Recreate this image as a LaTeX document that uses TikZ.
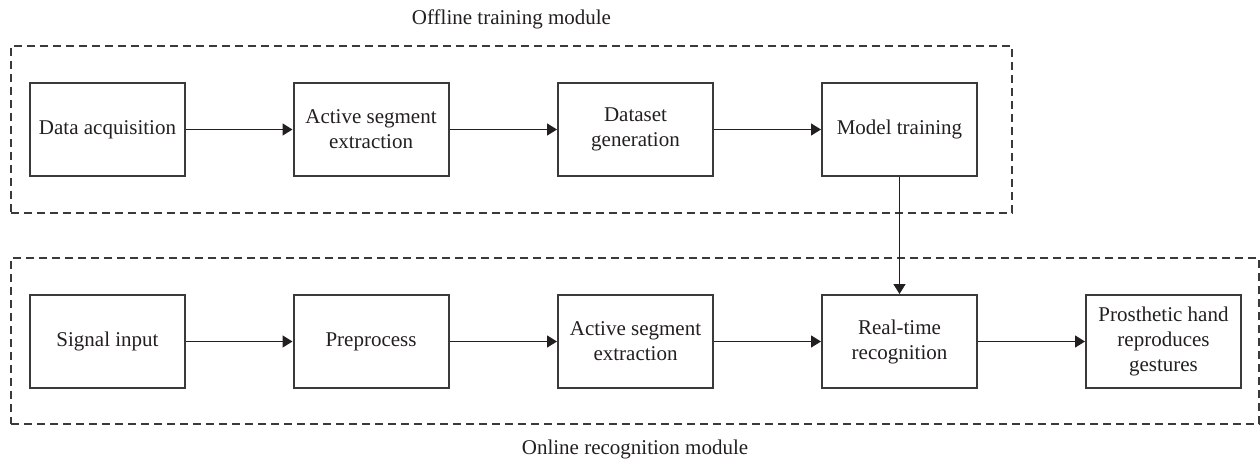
\documentclass[tikz,border=0pt]{standalone}
\usepackage{fontspec}
\setmainfont{Liberation Serif}
\usetikzlibrary{arrows.meta}
\definecolor{ink}{HTML}{231F20}
\definecolor{edge}{HTML}{3A3A3A}
\tikzset{
  stage/.style={draw=edge, line width=1pt, minimum width=77.5pt, minimum height=46.5pt,
    inner sep=2pt, align=center, text=ink, font=\fontsize{10.5}{12.5}\selectfont},
  module/.style={draw=edge, line width=0.75pt, dash pattern=on 4pt off 2.5pt, inner sep=0pt},
  flow/.style={draw=ink, line width=0.75pt, -{Triangle[length=5pt,width=6pt]}},
  caption/.style={text=ink, font=\fontsize{10.5}{12.5}\selectfont}
}
\begin{document}
\begin{tikzpicture}[x=0.5pt, y=-0.5pt]
\useasboundingbox (0,0) rectangle (1260,461);
% module frames
\node[module, minimum width=500.5pt, minimum height=83.5pt] (offline) at (511.5,129.5) {};
\node[module, minimum width=624pt, minimum height=83pt] (online) at (635,341) {};
\node[caption, anchor=base] (offcap) at (511.5,24) {Offline training module};
\node[caption, anchor=base] (oncap) at (635,454) {Online recognition module};
% offline stages
\node[stage] (acq) at (107.5,129.5) {Data acquisition};
\node[stage] (seg1) at (371,129.5) {Active segment\\extraction};
\node[stage] (gen) at (635.5,129.5) {Dataset\\generation};
\node[stage] (train) at (899.5,129.5) {Model training};
% online stages
\node[stage] (sig) at (107.5,341.5) {Signal input};
\node[stage] (pre) at (371,341.5) {Preprocess};
\node[stage] (seg2) at (635.5,341.5) {Active segment\\extraction};
\node[stage] (rec) at (899.5,341.5) {Real-time\\recognition};
\node[stage] (hand) at (1163.5,341.5) {Prosthetic hand\\reproduces\\gestures};
% connectors
\draw[flow] (acq) -- (seg1);
\draw[flow] (seg1) -- (gen);
\draw[flow] (gen) -- (train);
\draw[flow] (sig) -- (pre);
\draw[flow] (pre) -- (seg2);
\draw[flow] (seg2) -- (rec);
\draw[flow] (rec) -- (hand);
\draw[flow] (train) -- (rec);
\end{tikzpicture}
\end{document}
